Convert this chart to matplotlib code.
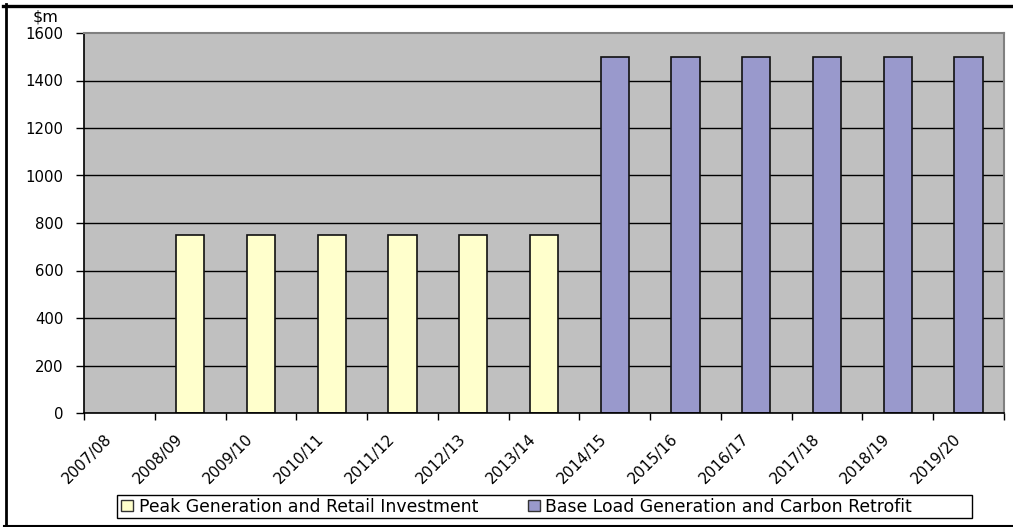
import matplotlib
matplotlib.use("Agg")
import matplotlib.pyplot as plt
from matplotlib.patches import Rectangle, Patch
from matplotlib.lines import Line2D
from matplotlib.transforms import ScaledTranslation
import numpy as np

# Financial years on the category axis
years = ["2007/08", "2008/09", "2009/10", "2010/11", "2011/12", "2012/13", "2013/14",
         "2014/15", "2015/16", "2016/17", "2017/18", "2018/19", "2019/20"]

# Investment per year ($m); zero where a programme has no spend
peak_retail = [0, 750, 750, 750, 750, 750, 750, 0, 0, 0, 0, 0, 0]
base_carbon = [0, 0, 0, 0, 0, 0, 0, 1500, 1500, 1500, 1500, 1500, 1500]

series_names = ["Peak Generation and Retail Investment",
                "Base Load Generation and Carbon Retrofit"]
series_colors = ["#FFFFCC", "#9999CC"]

y_ticks = [0, 200, 400, 600, 800, 1000, 1200, 1400, 1600]

W, H = 1013, 527
fig = plt.figure(figsize=(W / 100, H / 100), dpi=100)
fig.patch.set_facecolor("white")

ax = fig.add_axes([84 / W, 1 - 413 / H, 920 / W, 380 / H])
ax.set_facecolor("#C0C0C0")
ax.set_axisbelow(True)

x = np.arange(len(years))
bar_w = 0.4
b1 = ax.bar(x, peak_retail, width=bar_w, color=series_colors[0], edgecolor="#111111",
            linewidth=1.2)
b2 = ax.bar(x, base_carbon, width=bar_w, color=series_colors[1], edgecolor="#111111",
            linewidth=1.2)
# hide the zero-height bars
for rect in list(b1) + list(b2):
    if rect.get_height() == 0:
        rect.set_visible(False)

ax.set_xlim(-0.5, len(years) - 0.5)
ax.set_ylim(0, 1600)

ax.set_yticks(y_ticks)
ax.set_yticklabels([str(v) for v in y_ticks], fontsize=10.7, color="black")
ax.tick_params(axis="y", direction="out", length=6, width=1, pad=9)
ax.yaxis.grid(True, color="black", linewidth=1)
ax.get_ygridlines()[-1].set_visible(False)

# tick marks sit on category boundaries
ax.set_xticks(np.arange(-0.5, len(years), 1.0))
ax.set_xticklabels([])
ax.tick_params(axis="x", direction="out", length=5, width=1)

# rotated category labels, anchored just left of each category centre
lbl_tr = ax.get_xaxis_transform() + ScaledTranslation(-10 / 100, -23.5 / 100,
                                                      fig.dpi_scale_trans)
for xi, yr in zip(x, years):
    ax.text(xi, 0, yr, transform=lbl_tr, rotation=45, rotation_mode="anchor",
            ha="right", va="center", fontsize=11, color="black")

for side in ("left", "bottom"):
    ax.spines[side].set_color("black")
    ax.spines[side].set_linewidth(1.2)
for side in ("top", "right"):
    ax.spines[side].set_color("#808080")
    ax.spines[side].set_linewidth(1.5)

# unit label above the value axis
fig.text(33 / W, 1 - 17 / H, "$m", fontsize=11.5, ha="left", va="center")

# legend with its own frame
fig.patches.append(Rectangle((117 / W, 1 - 518 / H), 855 / W, 23.5 / H,
                             transform=fig.transFigure, fill=False,
                             edgecolor="black", linewidth=1))
handles = [Patch(facecolor=c, edgecolor="#333333", linewidth=1, label=n)
           for c, n in zip(series_colors, series_names)]
fig.legend(handles=handles, loc="center left",
           bbox_to_anchor=(121 / W, 1 - 506.5 / H), ncol=2, frameon=False,
           fontsize=12.4, handlelength=0.72, handleheight=0.55,
           handletextpad=0.3, columnspacing=2.9, borderpad=0, borderaxespad=0)

# outer border of the chart
fig.lines.append(Line2D([3 / W, 1], [1 - 5.5 / H, 1 - 5.5 / H],
                        transform=fig.transFigure, color="black", linewidth=2.4))
fig.lines.append(Line2D([5.5 / W, 5.5 / W], [1 - 4 / H, 1 - 526 / H],
                        transform=fig.transFigure, color="black", linewidth=2.0))
fig.lines.append(Line2D([4 / W, 1], [1 - 525.5 / H, 1 - 525.5 / H],
                        transform=fig.transFigure, color="black", linewidth=1.5))

fig.savefig("out.png", dpi=100)
